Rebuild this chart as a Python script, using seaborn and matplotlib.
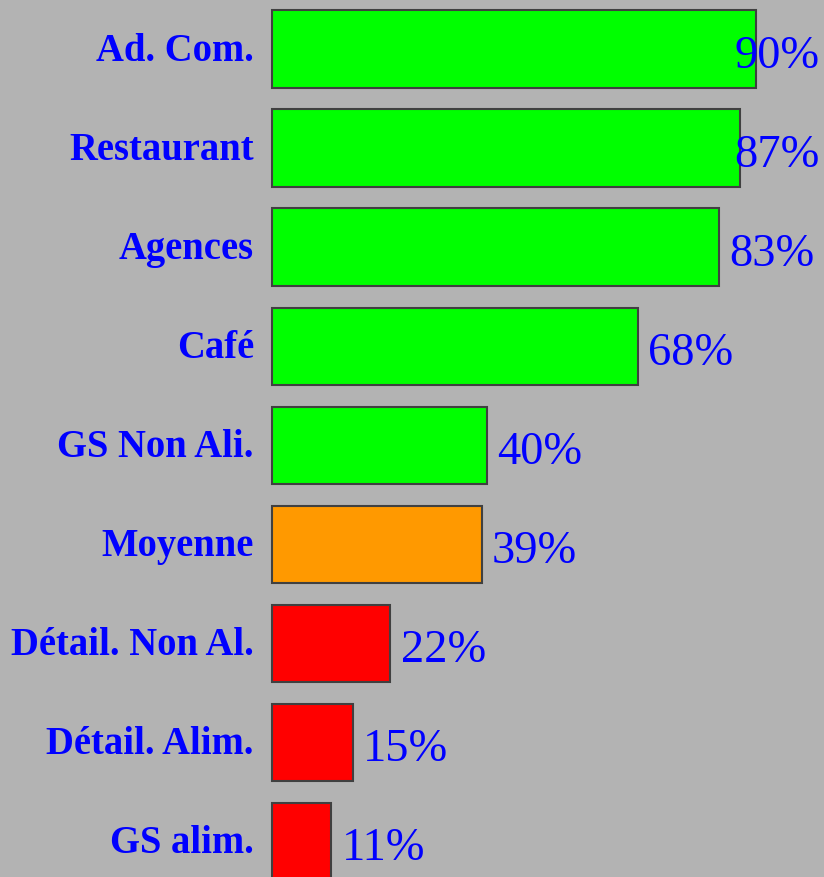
import pandas as pd
import matplotlib.pyplot as plt
import matplotlib.transforms as mtransforms
import seaborn as sns

# données
categories = ['Ad. Com.', 'Restaurant', 'Agences', 'Café', 'GS Non Ali.',
              'Moyenne', 'Détail. Non Al.', 'Détail. Alim.', 'GS alim.']
valeurs = [90, 87, 83, 68, 40, 39, 22, 15, 11]
couleurs = ['#00ff00', '#00ff00', '#00ff00', '#00ff00', '#00ff00',
            '#ff9900', '#ff0000', '#ff0000', '#ff0000']

df = pd.DataFrame({'Categorie': categories, 'Valeur': valeurs})

sns.set_style('white')
plt.rcParams['font.family'] = ['Liberation Serif', 'DejaVu Serif']

fig = plt.figure(figsize=(8.24, 8.77), dpi=100)
fig.patch.set_facecolor('#b3b3b3')
ax = fig.add_axes([272 / 824, 0, 1 - 272 / 824, 1])
ax.set_facecolor('#b3b3b3')

sns.barplot(data=df, y='Categorie', x='Valeur', hue='Categorie',
            palette=couleurs, orient='h', width=0.78, legend=False,
            edgecolor='#404040', linewidth=1.5, saturation=1, ax=ax)
for p in ax.patches:
    p.set_clip_on(False)

ax.set_xlim(0, 552 / 5.38)
ax.set_ylim(8.36, -0.495)
for s in ax.spines.values():
    s.set_visible(False)
ax.set_xticks([])
ax.set_xlabel('')
ax.set_ylabel('')
ax.tick_params(axis='y', length=0, pad=13)

# étiquettes de catégorie : gras, bleu, ligne de base sous le centre de la barre
off = mtransforms.ScaledTranslation(0, -12 / 100, fig.dpi_scale_trans)
for t in ax.get_yticklabels():
    t.set_fontsize(27.8)
    t.set_fontweight('bold')
    t.set_color('#0000ff')
    t.set_verticalalignment('baseline')
    t.set_transform(t.get_transform() + off)

# étiquettes de valeur, repoussées à gauche si elles dépassent
fig.canvas.draw()
renderer = fig.canvas.get_renderer()
for i, v in enumerate(valeurs):
    txt = ax.text(v + 1.9, i + 0.19, f"{v}%", ha='left', va='baseline',
                  fontsize=33.5, color='#0000ff')
    bb = txt.get_window_extent(renderer)
    if bb.x1 > 820:
        dx = (bb.x1 - 820)
        x0 = ax.transData.inverted().transform((bb.x0 - dx, 0))[0]
        txt.set_x(x0)

plt.savefig('out.png', dpi=100, facecolor=fig.get_facecolor())
